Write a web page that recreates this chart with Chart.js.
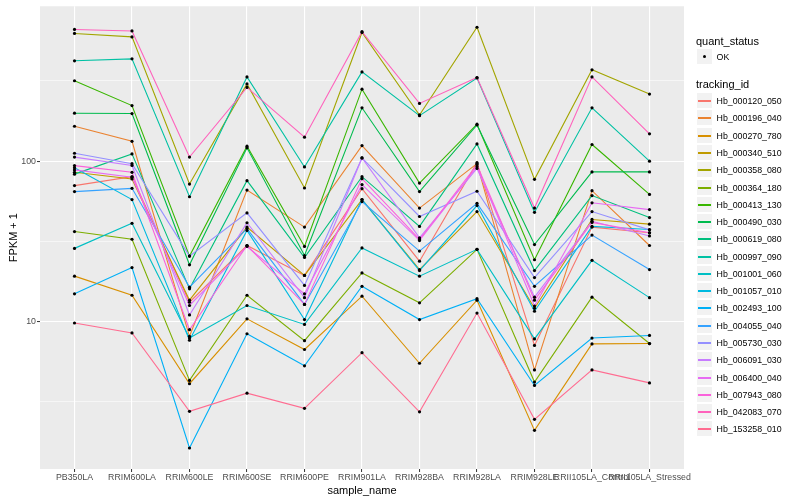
<!DOCTYPE html>
<html>
<head>
<meta charset="utf-8">
<script src="https://cdn.jsdelivr.net/npm/chart.js@4.4.1/dist/chart.umd.min.js"></script>
<style>
  html, body { margin: 0; padding: 0; background: #fff; }
  #wrap { position: relative; width: 800px; height: 500px; font-family: "Liberation Sans", Arial, sans-serif; }
  canvas { position: absolute; left: 0; top: 0; }
  .title { position: absolute; font-size: 11px; line-height: 11px; font-weight: 400; color: #000; white-space: nowrap; }
  .leg-row { position: absolute; left: 696px; height: 17px; display: flex; align-items: center; }
  .key { width: 17px; height: 17px; box-sizing: border-box; background: #F2F2F2; border: 1px solid #fff; position: relative; flex: none; }
  .key .ln { position: absolute; left: 1px; right: 1px; top: 7px; height: 1.5px; }
  .key .dot { position: absolute; left: 6px; top: 6px; width: 3px; height: 3px; border-radius: 50%; background: #000; }
  .lab { font-size: 8.8px; color: #000; margin-left: 3.6px; white-space: nowrap; }
</style>
</head>
<body>
<div id="wrap">
  <canvas id="chart" width="800" height="500"></canvas>
  <div class="title" id="xTitle" style="left:362px; top:484.5px; transform:translateX(-50%);">sample_name</div>
  <div class="title" style="left:696px; top:35.5px;">quant_status</div>
  <div class="title" style="left:696px; top:78.5px;">tracking_id</div>
  <div id="legend"></div>
</div>
<script>
// Data
const categories = ['PB350LA', 'RRIM600LA', 'RRIM600LE', 'RRIM600SE', 'RRIM600PE', 'RRIM901LA',
                    'RRIM928BA', 'RRIM928LA', 'RRIM928LE', 'RRII105LA_Control', 'RRII105LA_Stressed'];

const trackingIds = ['Hb_000120_050', 'Hb_000196_040', 'Hb_000270_780', 'Hb_000340_510', 'Hb_000358_080',
                     'Hb_000364_180', 'Hb_000413_130', 'Hb_000490_030', 'Hb_000619_080', 'Hb_000997_090',
                     'Hb_001001_060', 'Hb_001057_010', 'Hb_002493_100', 'Hb_004055_040', 'Hb_005730_030',
                     'Hb_006091_030', 'Hb_006400_040', 'Hb_007943_080', 'Hb_042083_070', 'Hb_153258_010'];

const hb_000120_050 = [70.4, 80.1, 13.2, 29.8, 19.4, 67.4, 23.8, 97.9, 7.1, 38.8, 35.8];
const hb_000196_040 = [165, 133, 8.1, 66, 38.8, 125, 51, 96.5, 5.0, 65.5, 29.8];
const hb_000270_780 = [19.2, 14.6, 4.1, 10.4, 6.7, 14.4, 5.5, 13.6, 2.1, 7.26, 7.3];
const hb_000340_510 = [85.2, 77.5, 13.6, 38.8, 19.4, 57.6, 21.1, 48.5, 12.1, 43.3, 40.5];
const hb_000358_080 = [625, 595, 72, 303, 68, 634, 194, 683, 77, 371, 262];
const hb_000364_180 = [36.4, 32.6, 4.3, 14.6, 7.6, 20.1, 13.1, 28.2, 4.2, 14.2, 7.3];
const hb_000413_130 = [317, 222, 25.6, 124, 29.4, 281, 73, 170, 24.3, 127, 62];
const hb_000490_030 = [199, 198, 22.6, 121, 25.8, 215, 64.6, 168, 30.2, 85.7, 85.7];
const hb_000619_080 = [83, 111, 16, 75.6, 25.1, 80, 39.2, 128, 20.8, 61, 44.5];
const hb_000997_090 = [422, 434, 60, 335, 92, 360, 192, 330, 48, 215, 100];
const hb_001001_060 = [28.6, 41, 7.9, 12.6, 9.6, 28.8, 19.2, 28.2, 7.8, 24.1, 14.1];
const hb_001057_010 = [91, 57.6, 7.65, 37, 10.3, 57.6, 20.8, 52.9, 11.6, 39.2, 37.5];
const hb_002493_100 = [14.9, 21.7, 1.63, 8.4, 5.3, 16.6, 10.3, 13.9, 4.0, 7.9, 8.2];
const hb_004055_040 = [64.6, 67.7, 16.4, 38, 12.8, 56, 27.5, 54.6, 16.6, 34.6, 21.1];
const hb_005730_030 = [112, 96.5, 25.6, 47.6, 16.8, 104.7, 45.2, 64.9, 18.8, 48.5, 37.3];
const hb_006091_030 = [106, 94, 11, 41.3, 14.1, 104.7, 33.3, 90, 14.2, 42.2, 34.2];
const hb_006400_040 = [88.2, 79.3, 12.6, 29.4, 14.9, 71.4, 32, 92.4, 12.5, 55, 49.9];
const hb_007943_080 = [93.8, 85.2, 8.9, 29.8, 12.8, 77.8, 32.5, 95, 13.6, 41.5, 35.8];
const hb_042083_070 = [662, 648, 106, 288, 141, 641, 229, 332, 51, 335, 148];
const hb_153258_010 = [9.8, 8.5, 2.76, 3.58, 2.88, 6.4, 2.74, 11.3, 2.46, 5.0, 4.15];

const seriesValues = [hb_000120_050, hb_000196_040, hb_000270_780, hb_000340_510, hb_000358_080,
                      hb_000364_180, hb_000413_130, hb_000490_030, hb_000619_080, hb_000997_090,
                      hb_001001_060, hb_001057_010, hb_002493_100, hb_004055_040, hb_005730_030,
                      hb_006091_030, hb_006400_040, hb_007943_080, hb_042083_070, hb_153258_010];

const yTickLabels = [10, 100];
const yMinorBreaks = [3.162, 31.62, 316.2];
const yLimits = [1.206, 923];
const yTitle = 'FPKM + 1';

// ggplot hue palette, 20 levels
const palette = ['#F8766D', '#EA8331', '#D89000', '#C09B00', '#A3A500', '#7CAE00', '#39B600', '#00BB4E',
                 '#00BF7D', '#00C1A3', '#00BFC4', '#00BAE0', '#00B0F6', '#35A2FF', '#9590FF', '#C77CFF',
                 '#E76BF3', '#FA62DB', '#FF62BC', '#FF6C91'];

const FONT = '"Liberation Sans", Arial, sans-serif';

// Legend
function buildLegend() {
    const legend = document.getElementById('legend');
    const okRow = document.createElement('div');
    okRow.className = 'leg-row';
    okRow.style.top = '48px';
    okRow.innerHTML = '<div class="key"><div class="dot"></div></div><span class="lab">OK</span>';
    legend.appendChild(okRow);

    trackingIds.forEach((id, i) => {
        const row = document.createElement('div');
        row.className = 'leg-row';
        row.style.top = Math.round(92.1 + i * 17.28) + 'px';
        row.innerHTML = `<div class="key"><div class="ln" style="background:${palette[i]}"></div></div><span class="lab">${id}</span>`;
        legend.appendChild(row);
    });
}

const panelBg = {
    id: 'panelBg',
    beforeDraw(chart) {
        const { ctx, chartArea: a } = chart;
        ctx.save();
        ctx.fillStyle = '#EBEBEB';
        ctx.fillRect(a.left, a.top, a.right - a.left, a.bottom - a.top);
        ctx.restore();
    }
};

// y axis title, rotated, centred on the panel
const yTitlePlugin = {
    id: 'yTitlePlugin',
    afterDraw(chart) {
        const { ctx, chartArea: a } = chart;
        ctx.save();
        ctx.translate(13.5, (a.top + a.bottom) / 2);
        ctx.rotate(-Math.PI / 2);
        ctx.font = '11px ' + FONT;
        ctx.fillStyle = '#000000';
        ctx.textAlign = 'center';
        ctx.textBaseline = 'middle';
        ctx.fillText(yTitle, 0, 0);
        ctx.restore();
    }
};

function initChart() {
    const datasets = trackingIds.map((id, i) => ({
        label: id,
        data: seriesValues[i].map((v, j) => ({ x: j, y: v })),
        borderColor: palette[i],
        borderWidth: 1.1,
        pointRadius: 0,
        fill: false,
        tension: 0,
        order: trackingIds.length - i
    }));

    datasets.push({
        type: 'scatter',
        label: 'OK',
        data: seriesValues.flatMap(vals => vals.map((v, j) => ({ x: j, y: v }))),
        pointRadius: 1.6,
        pointBackgroundColor: '#000000',
        pointBorderWidth: 0,
        showLine: false,
        order: 0
    });

    const ctx = document.getElementById('chart').getContext('2d');
    new Chart(ctx, {
        type: 'line',
        data: { datasets },
        plugins: [panelBg, yTitlePlugin],
        options: {
            responsive: false,
            animation: false,
            layout: { padding: { left: 0, right: 116, top: 5, bottom: 0 } },
            plugins: { legend: { display: false }, tooltip: { enabled: false } },
            scales: {
                x: {
                    type: 'linear',
                    min: -0.6,
                    max: 10.6,
                    afterBuildTicks: s => { s.ticks = categories.map((c, i) => ({ value: i })); },
                    afterFit: s => { s.height = 31; },
                    ticks: {
                        callback: v => categories[v],
                        autoSkip: false, maxRotation: 0, minRotation: 0,
                        color: '#4D4D4D', font: { size: 8.8, family: FONT }, padding: 0.5
                    },
                    grid: { color: '#FFFFFF', lineWidth: 1.1, tickLength: 3, tickColor: '#333333', tickWidth: 1 },
                    border: { display: false }
                },
                y: {
                    type: 'logarithmic',
                    min: yLimits[0],
                    max: yLimits[1],
                    afterBuildTicks: s => {
                        s.ticks = [...yMinorBreaks, ...yTickLabels].sort((a, b) => a - b).map(v => ({ value: v }));
                    },
                    afterFit: s => { s.width = 40; },
                    ticks: {
                        callback: v => yTickLabels.includes(v) ? String(v) : '',
                        autoSkip: false,
                        color: '#4D4D4D', font: { size: 8.8, family: FONT }, padding: 1
                    },
                    grid: {
                        color: '#FFFFFF',
                        lineWidth: c => (c.tick && yTickLabels.includes(c.tick.value)) ? 1.1 : 0.55,
                        tickLength: 3,
                        tickColor: c => (c.tick && yTickLabels.includes(c.tick.value)) ? '#333333' : 'rgba(0,0,0,0)',
                        tickWidth: 1
                    },
                    border: { display: false }
                }
            }
        }
    });
}

buildLegend();
initChart();
</script>
</body>
</html>
